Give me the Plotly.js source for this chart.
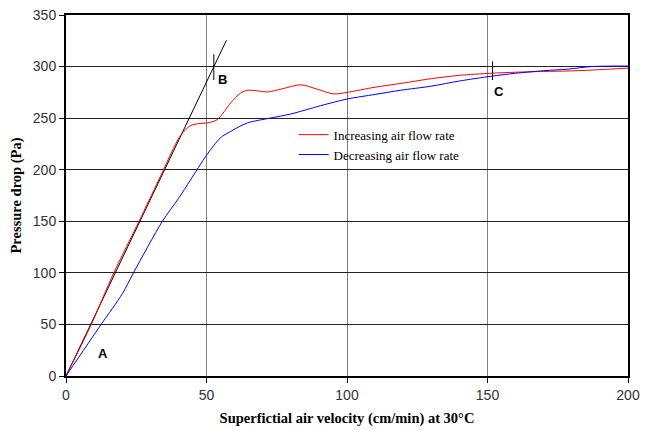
<!DOCTYPE html>
<html>
<head>
<meta charset="utf-8">
<script src="https://cdn.plot.ly/plotly-3.0.1.min.js"></script>
<style>html,body{margin:0;padding:0;background:#fff;}#chart{width:647px;height:430px;}</style>
</head>
<body>
<div id="chart"></div>
<script>
// Increasing air flow rate (red)
var incX = [0, 9, 17, 26, 33, 40.7, 44.3, 48, 50.2, 53.8, 58.6, 62, 64.6, 68, 71.7, 77, 83.6, 89.5, 95.2, 100, 110, 120, 130, 140, 151, 160, 170, 180, 190, 200];
var incY = [0, 50, 100, 150, 190, 233, 242.7, 245, 245.3, 248.5, 264.7, 274, 277, 276.5, 275.4, 278.5, 282.3, 278, 273.5, 275, 280, 284, 288.3, 291.5, 293.5, 294.5, 295.3, 295.8, 297, 298.5];
// Decreasing air flow rate (blue)
var decX = [0, 12.5, 20.1, 24, 34.3, 40, 44.3, 50, 55, 58.5, 64.5, 72.6, 80, 90.5, 100, 110, 119, 130, 140, 151, 160, 170, 178.6, 187, 200];
var decY = [0, 50, 80, 100, 150, 172, 190, 214, 231, 237, 245.3, 250, 254, 262, 268.5, 273, 277, 281, 286, 290.5, 293.5, 296, 297.5, 300, 300.5];
// Tangent line at the origin
var tanX = [0, 57.1];
var tanY = [0, 325.5];
// Point marks B and C
var markBX = [52.6, 52.6];
var markBY = [287, 312];
var markCX = [151.8, 151.8];
var markCY = [287, 305];
// Point labels
var labelText = ["A", "B", "C"];
var labelX = [13.1, 55.8, 154.1];
var labelY = [22, 287.4, 276];
// Axis ticks
var xTicks = [0, 50, 100, 150, 200];
var yTicks = [0, 50, 100, 150, 200, 250, 300, 350];

var traces = [
  {x: tanX, y: tanY, mode: 'lines', line: {color: '#000', width: 1}, showlegend: false, hoverinfo: 'skip'},
  {x: markBX, y: markBY, mode: 'lines', line: {color: '#000', width: 1}, showlegend: false, hoverinfo: 'skip'},
  {x: markCX, y: markCY, mode: 'lines', line: {color: '#000', width: 1}, showlegend: false, hoverinfo: 'skip'},
  {x: incX, y: incY, mode: 'lines', name: 'Increasing air flow rate', line: {color: '#ff0000', width: 1, shape: 'spline', smoothing: 0.8}},
  {x: decX, y: decY, mode: 'lines', name: 'Decreasing air flow rate', line: {color: '#0000ff', width: 1, shape: 'spline', smoothing: 0.8}}
];

var annotations = labelText.map(function(t, i) {
  return {x: labelX[i], y: labelY[i], xref: 'x', yref: 'y', text: '<b>' + t + '</b>', showarrow: false,
          font: {family: 'Liberation Sans, Arial, sans-serif', size: 13, color: '#000'}};
});

var layout = {
  width: 647, height: 430,
  margin: {l: 66, r: 19, t: 15, b: 54},
  paper_bgcolor: '#fff', plot_bgcolor: '#fff',
  showlegend: true,
  legend: {x: 0.405, y: 0.71, xanchor: 'left', yanchor: 'top', bgcolor: 'rgba(0,0,0,0)',
           font: {family: 'Liberation Serif, Times New Roman, serif', size: 13, color: '#000'}},
  xaxis: {
    range: [0, 200], tickvals: xTicks, ticks: 'outside', ticklen: 5, tickcolor: '#000',
    showgrid: true, gridcolor: '#808080', gridwidth: 1,
    showline: true, linecolor: '#000', linewidth: 2, mirror: true, zeroline: false,
    tickfont: {family: 'Liberation Sans, Arial, sans-serif', size: 14, color: '#333'},
    title: {text: '<b>Superfictial air velocity (cm/min) at 30°C</b>', standoff: 11,
            font: {family: 'Liberation Serif, Times New Roman, serif', size: 14.5, color: '#000'}}
  },
  yaxis: {
    range: [0, 350], tickvals: yTicks, ticks: 'outside', ticklen: 5, tickcolor: '#000',
    showgrid: true, gridcolor: '#222', gridwidth: 1,
    showline: true, linecolor: '#000', linewidth: 2, mirror: true, zeroline: false,
    tickfont: {family: 'Liberation Sans, Arial, sans-serif', size: 14, color: '#333'},
    title: {text: '<b>Pressure drop (Pa)</b>', standoff: 8,
            font: {family: 'Liberation Serif, Times New Roman, serif', size: 14.5, color: '#000'}}
  },
  annotations: annotations
};

Plotly.newPlot('chart', traces, layout, {displayModeBar: false, staticPlot: true});
</script>
</body>
</html>
